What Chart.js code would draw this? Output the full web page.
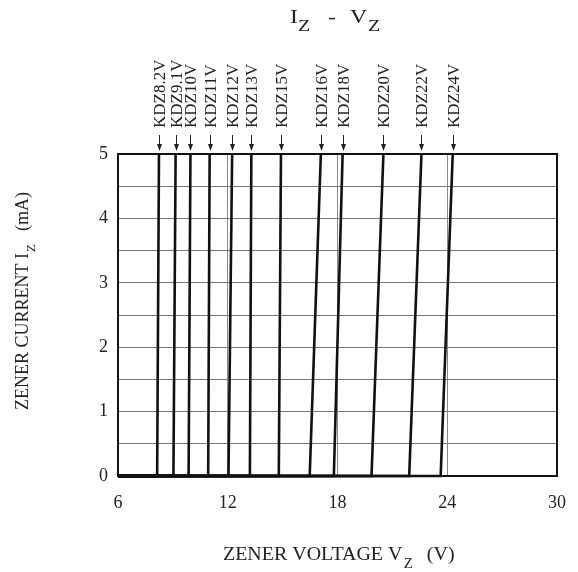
<!DOCTYPE html>
<html>
<head>
<meta charset="utf-8">
<script src="https://cdn.jsdelivr.net/npm/chart.js@4/dist/chart.umd.min.js"></script>
<style>
  body { margin: 0; background: #fff; }
</style>
</head>
<body>
<canvas id="chart" width="578" height="572"></canvas>
<script>
// zener types and where each curve sits at 0 mA and at 5 mA
const diodeNames = ["KDZ8.2V", "KDZ9.1V", "KDZ10V", "KDZ11V", "KDZ12V", "KDZ13V",
  "KDZ15V", "KDZ16V", "KDZ18V", "KDZ20V", "KDZ22V", "KDZ24V"];
const vzAtZero = [8.14, 9.03, 9.86, 10.93, 12.04, 13.21, 14.79, 16.48, 17.80, 19.86, 21.92, 23.64];
const vzAtFive = [8.24, 9.15, 9.96, 11.01, 12.24, 13.29, 14.91, 17.09, 18.28, 20.51, 22.59, 24.30];
const vzStart = 6;
const izKnee = 0;
const izTop = 5;
const xTicks = [6, 12, 18, 24, 30];

const SERIF = "'Liberation Serif', 'Times New Roman', serif";

const datasets = diodeNames.map((name, i) => ({
  label: name,
  data: [
    { x: vzStart, y: izKnee },
    { x: vzAtZero[i], y: izKnee },
    { x: vzAtFive[i], y: izTop },
  ],
  borderColor: "#111",
  borderWidth: 2.6,
  pointRadius: 0,
  tension: 0,
  clip: false,
}));

// pieces are [text, x offset, isSub]
function drawPieces(ctx, pieces, x, y, size, subSize, sx) {
  sx = sx || 1;
  pieces.forEach(([txt, dx, sub]) => {
    ctx.save();
    ctx.translate(x + dx, sub ? y + size * 0.4 : y);
    ctx.scale(sx, 1);
    ctx.font = (sub ? subSize : size) + "px " + SERIF;
    ctx.fillText(txt, 0, 0);
    ctx.restore();
  });
}

function widthOf(ctx, txt, size) {
  ctx.font = size + "px " + SERIF;
  return ctx.measureText(txt).width;
}

const decorations = {
  id: "decorations",
  afterDraw(chart) {
    const { ctx, chartArea: a, scales } = chart;
    ctx.save();
    // frame
    ctx.strokeStyle = "#111";
    ctx.lineWidth = 2;
    ctx.strokeRect(a.left, a.top, a.right - a.left, a.bottom - a.top);

    ctx.fillStyle = "#222";
    ctx.textBaseline = "alphabetic";

    // title  I_Z  -  V_Z
    drawPieces(ctx, [["I", 0, false], ["Z", 8, true], ["-", 38, false], ["V", 60, false], ["Z", 78, true]],
      290, 23, 19, 16, 1.25);

    // x title
    let w = widthOf(ctx, "ZENER VOLTAGE V", 20);
    drawPieces(ctx, [["ZENER VOLTAGE V", 0, false], ["Z", w + 1, true], ["(V)", w + 24, false]], 223, 560, 19, 14, 1.05);

    // y title, rotated
    ctx.save();
    ctx.translate(28, 410);
    ctx.rotate(-Math.PI / 2);
    w = widthOf(ctx, "ZENER CURRENT I", 18);
    drawPieces(ctx, [["ZENER CURRENT I", 0, false], ["Z", w + 1, true], ["(mA)", w + 22, false]], 0, 0, 18, 13);
    ctx.restore();

    // part labels with arrows
    ctx.strokeStyle = "#222";
    ctx.lineWidth = 1;
    diodeNames.forEach((name, i) => {
      const x = Math.round(scales.x.getPixelForValue(vzAtFive[i])) + 0.5;
      ctx.beginPath();
      ctx.moveTo(x, 135);
      ctx.lineTo(x, 147);
      ctx.stroke();
      ctx.beginPath();
      ctx.moveTo(x - 2.5, 144);
      ctx.lineTo(x + 2.5, 144);
      ctx.lineTo(x, 151);
      ctx.closePath();
      ctx.fill();

      ctx.save();
      ctx.translate(x, 128);
      ctx.rotate(-Math.PI / 2);
      ctx.font = "17px " + SERIF;
      ctx.textAlign = "left";
      ctx.textBaseline = "middle";
      ctx.fillText(name, 0, 1);
      ctx.restore();
    });
    ctx.restore();
  },
};

new Chart(document.getElementById("chart"), {
  type: "line",
  data: { datasets },
  options: {
    responsive: false,
    animation: false,
    layout: { padding: { top: 154, right: 21, left: 0, bottom: 56 } },
    plugins: {
      legend: { display: false },
      tooltip: { enabled: false },
    },
    scales: {
      x: {
        type: "linear",
        min: 6,
        max: 30,
        afterBuildTicks: (s) => { s.ticks = xTicks.map((v) => ({ value: v })); },
        afterFit: (s) => { s.height = 40; s.paddingLeft = 0; s.paddingRight = 0; },
        grid: { color: "#888", lineWidth: 1, drawTicks: false },
        border: { display: false },
        ticks: {
          padding: 16,
          color: "#222",
          font: { family: SERIF, size: 18 },
          maxRotation: 0,
        },
      },
      y: {
        type: "linear",
        min: 0,
        max: 5,
        afterFit: (s) => { s.width = 118; },
        grid: { color: "#777", lineWidth: 1, drawTicks: false },
        border: { display: false },
        ticks: {
          stepSize: 0.5,
          padding: 10,
          color: "#222",
          font: { family: SERIF, size: 18 },
          callback: (v) => (Number.isInteger(v) ? v : ""),
        },
      },
    },
  },
  plugins: [decorations],
});
</script>
</body>
</html>
